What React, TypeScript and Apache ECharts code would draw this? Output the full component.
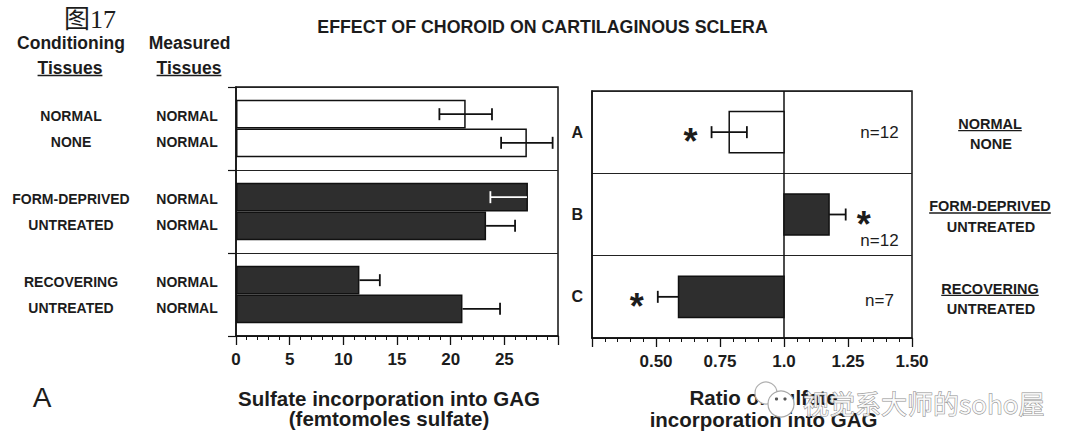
import React, { useEffect, useRef } from "react";
import * as echarts from "echarts";

// ---------- data ----------
const groups = ["A", "B", "C"];
const conditioningTop = ["NORMAL", "FORM-DEPRIVED", "RECOVERING"];
const conditioningBottom = ["NONE", "UNTREATED", "UNTREATED"];
const measuredTop = ["NORMAL", "NORMAL", "NORMAL"];
const measuredBottom = ["NORMAL", "NORMAL", "NORMAL"];
// sulfate incorporation into GAG (femtomoles sulfate)
const sulfateFirst = [21.4, 27.2, 11.5];
const sulfateSecond = [27.1, 23.3, 21.1];
const sulfateFirstErr = [2.45, 3.5, 1.9];
const sulfateSecondErr = [2.4, 2.7, 3.5];
const groupFilled = [false, true, true];
// ratio of sulfate incorporation into GAG
const ratio = [0.786, 1.176, 0.588];
const ratioErr = [0.069, 0.065, 0.081];
const significant = [true, true, true];
const nLabels = ["n=12", "n=12", "n=7"];
const sulfateTickLabels = [0, 5, 10, 15, 20, 25];
const ratioTickLabels = [0.5, 0.75, 1.0, 1.25, 1.5];
const ratioBase = 1.0;

// ---------- styles / layout ----------
const INK = "#1c1c1c";
const DARK = "#2e2e2e";
const SANS = '"Liberation Sans", Arial, Helvetica, sans-serif';
const CAT_GAP = 0.31;
const SULFATE_MAX = 30;
const firstErrWhite = [false, true, false];
const nOffsetY = [0, 26, 4];

function measure(text: string, font: string): number {
  const c = document.createElement("canvas");
  const ctx = c.getContext("2d")!;
  ctx.font = font;
  return ctx.measureText(text).width;
}

function textEl(text: string, x: number, y: number, font: string, extra: any = {}) {
  return {
    type: "text",
    x,
    y,
    z: 10,
    style: { text, font, fill: INK, align: "center", verticalAlign: "middle", ...extra },
  };
}

function underlinedText(text: string, x: number, y: number, font: string, gap: number) {
  const w = measure(text, font);
  return [
    textEl(text, x, y, font),
    {
      type: "line",
      z: 10,
      shape: { x1: x - w / 2, y1: y + gap, x2: x + w / 2, y2: y + gap },
      style: { stroke: INK, lineWidth: 1.3 },
    },
  ];
}

function whisker(x1: number, x2: number, y: number, capAt: number[], color: string) {
  const st = { stroke: color, lineWidth: 1.8 };
  const out: any[] = [{ type: "line", shape: { x1, y1: y, x2, y2: y }, style: st }];
  capAt.forEach((cx) => out.push({ type: "line", shape: { x1: cx, y1: y - 6, x2: cx, y2: y + 6 }, style: st }));
  return out;
}

export default function App() {
  const ref = useRef<HTMLDivElement>(null);

  useEffect(() => {
    document.body.style.margin = "0";
    const chart = echarts.init(ref.current!, null, { renderer: "svg" });

    const barItem = (v: number, i: number) => ({
      value: v,
      itemStyle: {
        color: groupFilled[i] ? DARK : "#ffffff",
        borderColor: "#111",
        borderWidth: 1.5,
      },
    });

    const leftErrData: number[][] = [];
    groups.forEach((_, g) => {
      leftErrData.push([sulfateFirst[g], sulfateFirstErr[g], g, 0]);
      leftErrData.push([sulfateSecond[g], sulfateSecondErr[g], g, 1]);
    });

    const option: any = {
      animation: false,
      backgroundColor: "#ffffff",
      textStyle: { fontFamily: SANS, color: INK },
      grid: [
        { left: 235, top: 87, width: 323, height: 249, show: true, borderColor: "#111", borderWidth: 1.5, backgroundColor: "transparent" },
        { left: 592, top: 91, width: 320, height: 247, show: true, borderColor: "#111", borderWidth: 1.5, backgroundColor: "transparent" },
      ],
      xAxis: [
        {
          gridIndex: 0,
          type: "value",
          min: 0,
          max: SULFATE_MAX,
          interval: 5,
          axisLine: { show: true, lineStyle: { color: "#111", width: 1.5 } },
          axisTick: { show: true, length: 9, lineStyle: { color: "#111", width: 1.3 } },
          minorTick: { show: true, splitNumber: 5, length: 4, lineStyle: { color: "#111", width: 1 } },
          splitLine: { show: false },
          axisLabel: {
            margin: 15,
            fontSize: 17,
            fontWeight: "bold",
            color: INK,
            fontFamily: SANS,
            formatter: (v: number) => (sulfateTickLabels.includes(v) ? String(v) : ""),
          },
          name: "Sulfate incorporation into GAG\n(femtomoles sulfate)",
          nameLocation: "middle",
          nameGap: 52,
          nameTextStyle: { fontSize: 20.5, fontWeight: "bold", color: INK, lineHeight: 20, fontFamily: SANS, padding: [0, 16, 0, 0] },
        },
        {
          gridIndex: 1,
          type: "value",
          min: 0.25,
          max: 1.5,
          interval: 0.25,
          axisLine: { show: true, lineStyle: { color: "#111", width: 1.5 } },
          axisTick: { show: true, length: 9, lineStyle: { color: "#111", width: 1.3 } },
          minorTick: { show: true, splitNumber: 5, length: 4, lineStyle: { color: "#111", width: 1 } },
          splitLine: { show: false },
          axisLabel: {
            margin: 15,
            fontSize: 17,
            fontWeight: "bold",
            color: INK,
            fontFamily: SANS,
            formatter: (v: number) => {
              const hit = ratioTickLabels.find((t) => Math.abs(t - v) < 1e-6);
              if (hit === undefined) return "";
              return hit === 1 ? "1.0" : hit.toFixed(2);
            },
          },
          name: "Ratio of sulfate\nincorporation into GAG",
          nameLocation: "middle",
          nameGap: 49,
          nameTextStyle: { fontSize: 20.5, fontWeight: "bold", color: INK, lineHeight: 21.5, fontFamily: SANS, padding: [0, 0, 0, 23] },
        },
      ],
      yAxis: [
        {
          gridIndex: 0,
          type: "category",
          data: groups,
          inverse: true,
          axisLine: { show: true, lineStyle: { color: "#111", width: 1.5 } },
          axisTick: { show: true, length: 8, lineStyle: { color: "#111", width: 1.2 } },
          splitLine: { show: true, lineStyle: { color: "#222", width: 1.2 } },
          axisLabel: {
            margin: 1,
            formatter: (_: string, i: number) =>
              `{c|${conditioningTop[i]}}{m|${measuredTop[i]}}\n{c|${conditioningBottom[i]}}{m|${measuredBottom[i]}}`,
            rich: {
              c: { width: 136, align: "center", fontSize: 14, fontWeight: "bold", lineHeight: 26, color: INK, fontFamily: SANS },
              m: { width: 96, align: "center", fontSize: 14, fontWeight: "bold", lineHeight: 26, color: INK, fontFamily: SANS },
            },
          },
        },
        {
          gridIndex: 1,
          type: "category",
          data: groups,
          inverse: true,
          axisLine: { show: true, lineStyle: { color: "#111", width: 1.5 } },
          axisTick: { show: false },
          splitLine: { show: true, lineStyle: { color: "#222", width: 1.2 } },
          axisLabel: { margin: 9, fontSize: 16, fontWeight: "bold", color: INK, fontFamily: SANS },
        },
      ],
      series: [
        {
          type: "bar",
          name: "first",
          xAxisIndex: 0,
          yAxisIndex: 0,
          barGap: "0%",
          barCategoryGap: `${CAT_GAP * 100}%`,
          data: sulfateFirst.map(barItem),
        },
        {
          type: "bar",
          name: "second",
          xAxisIndex: 0,
          yAxisIndex: 0,
          barGap: "0%",
          barCategoryGap: `${CAT_GAP * 100}%`,
          data: sulfateSecond.map(barItem),
        },
        {
          type: "custom",
          name: "sulfateErr",
          xAxisIndex: 0,
          yAxisIndex: 0,
          z: 5,
          data: leftErrData,
          renderItem: (params: any, api: any) => {
            const v = api.value(0);
            const e = api.value(1);
            const g = api.value(2);
            const s = api.value(3);
            const c = api.coord([v, g]);
            const band = api.size([0, 1])[1];
            const barW = (band * (1 - CAT_GAP)) / 2;
            const y = c[1] + (s === 0 ? -barW / 2 : barW / 2);
            const lo = api.coord([v - e, g])[0];
            const hi = api.coord([Math.min(v + e, SULFATE_MAX), g])[0];
            const white = s === 0 && firstErrWhite[g];
            let children: any[];
            if (!groupFilled[g]) {
              children = whisker(lo, hi, y, [lo, hi], "#111");
            } else if (white) {
              children = whisker(lo, c[0] - 1, y, [lo], "#ffffff");
            } else {
              children = whisker(c[0], hi, y, v + e <= SULFATE_MAX ? [hi] : [], "#111");
            }
            return { type: "group", children };
          },
        },
        {
          type: "custom",
          name: "ratio",
          xAxisIndex: 1,
          yAxisIndex: 1,
          z: 5,
          data: ratio.map((r, i) => [r, ratioErr[i], i]),
          renderItem: (params: any, api: any) => {
            const i = params.dataIndex;
            const r = api.value(0);
            const e = api.value(1);
            const idx = api.value(2);
            const base = api.coord([ratioBase, idx]);
            const end = api.coord([r, idx]);
            const band = api.size([0, 1])[1];
            const h = band * 0.5;
            const cy = base[1];
            const lo = api.coord([r - e, idx])[0];
            const hi = api.coord([r + e, idx])[0];
            const x0 = Math.min(base[0], end[0]);
            const children: any[] = [];
            if (i === 0) {
              const cs = params.coordSys;
              children.push({
                type: "line",
                shape: { x1: base[0], y1: cs.y, x2: base[0], y2: cs.y + cs.height },
                style: { stroke: "#111", lineWidth: 1.5 },
              });
            }
            children.push({
              type: "rect",
              shape: { x: x0, y: cy - h / 2, width: Math.abs(end[0] - base[0]), height: h },
              style: { fill: groupFilled[i] ? DARK : "#ffffff", stroke: "#111", lineWidth: 1.5 },
            });
            if (!groupFilled[i]) {
              children.push(...whisker(lo, hi, cy, [lo, hi], "#111"));
            } else if (r < ratioBase) {
              children.push(...whisker(lo, end[0], cy, [lo], "#111"));
            } else {
              children.push(...whisker(end[0], hi, cy, [hi], "#111"));
            }
            if (significant[i]) {
              const ax = r < ratioBase ? lo - 21 : hi + 18;
              children.push({
                type: "text",
                x: ax,
                y: cy + 9.5,
                style: {
                  text: "*",
                  font: `bold 36px ${SANS}`,
                  lineHeight: 10,
                  fill: INK,
                  align: "center",
                  verticalAlign: "middle",
                },
              });
            }
            const np = api.coord([1.373, idx]);
            children.push({
              type: "text",
              x: np[0],
              y: np[1] + nOffsetY[i],
              style: { text: nLabels[i], font: `17px ${SANS}`, fill: INK, align: "center", verticalAlign: "middle" },
            });
            return { type: "group", children };
          },
        },
      ],
    };

    chart.setOption(option);

    const graphics: any[] = [];
    graphics.push(textEl("图17", 90, 19, `26px "Liberation Serif", "Noto Sans CJK SC", serif`));
    graphics.push(textEl("EFFECT OF CHOROID ON CARTILAGINOUS SCLERA", 542.5, 27, `bold 17.8px ${SANS}`));
    graphics.push(textEl("Conditioning", 71, 43, `bold 17.5px ${SANS}`));
    graphics.push(...underlinedText("Tissues", 70, 68, `bold 17.5px ${SANS}`, 7.5));
    graphics.push(textEl("Measured", 189.5, 43, `bold 17.5px ${SANS}`));
    graphics.push(...underlinedText("Tissues", 189, 68, `bold 17.5px ${SANS}`, 7.5));
    graphics.push(textEl("A", 42, 397, `28px ${SANS}`));

    const labelFont = `bold 14.5px ${SANS}`;
    const g1 = { top: 91, height: 247 };
    groups.forEach((g, i) => {
      let yc: any;
      try {
        yc = chart.convertToPixel({ yAxisIndex: 1 } as any, g);
      } catch (err) {
        yc = undefined;
      }
      if (typeof yc !== "number" || !isFinite(yc)) {
        yc = g1.top + (g1.height / groups.length) * (i + 0.5);
      }
      graphics.push(...underlinedText(conditioningTop[i], 990, yc - 8.3, labelFont, 6.8));
      graphics.push(textEl(conditioningBottom[i], 991, yc + 12, labelFont));
    });

    // watermark (present on the reference image)
    graphics.push({ type: "circle", z: 20, shape: { cx: 766, cy: 393, r: 11 }, style: { fill: "#ffffff", stroke: "#b0b0b0", lineWidth: 1.2 } });
    graphics.push({ type: "circle", z: 20, shape: { cx: 781, cy: 404, r: 13 }, style: { fill: "#ffffff", stroke: "#a8a8a8", lineWidth: 1.2 } });
    graphics.push({ type: "circle", z: 21, shape: { cx: 776.5, cy: 399, r: 1.6 }, style: { fill: "#555" } });
    graphics.push({ type: "circle", z: 21, shape: { cx: 785, cy: 399, r: 1.6 }, style: { fill: "#555" } });
    graphics.push({
      type: "text",
      x: 803,
      y: 402,
      z: 20,
      style: {
        text: "视觉系大师的soho屋",
        font: `26px "Noto Sans CJK SC", sans-serif`,
        fill: "rgba(255,255,255,0.85)",
        stroke: "#8c8c8c",
        lineWidth: 1,
        align: "left",
        verticalAlign: "middle",
      },
    });

    chart.setOption({ graphic: graphics });

    return () => chart.dispose();
  }, []);

  return <div ref={ref} style={{ width: 1080, height: 448 }} />;
}
